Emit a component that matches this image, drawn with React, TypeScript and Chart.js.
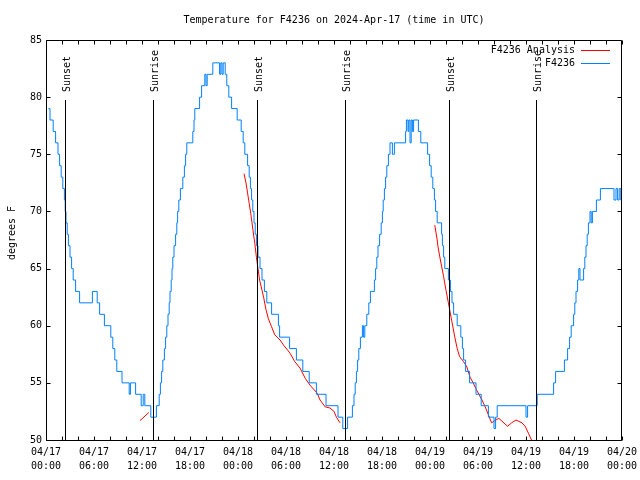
import { useEffect, useRef } from 'react';
import { Chart, registerables } from 'chart.js';

Chart.register(...registerables);

const FONT = '"DejaVu Sans Mono", "Liberation Mono", monospace';
const TITLE = 'Temperature for F4236 on 2024-Apr-17 (time in UTC)';
const Y_LABEL = 'degrees F';
const DAY_LABELS = ['04/17', '04/18', '04/19', '04/20'];
const TIME_LABELS = ['00:00', '06:00', '12:00', '18:00'];
const X_MIN = 0;
const X_MAX = 72;
const X_STEP = 2;
const Y_MIN = 50;
const Y_MAX = 85;
const Y_STEP = 5;

const SERIES_NAMES = ['F4236 Analysis', 'F4236'];
const SERIES_COLORS = ['#ff0000', '#0080ff'];

// hours since 04/17 00:00 UTC
const stationHours = [
  0.3, 0.5, 0.9, 1.2, 1.5, 1.7, 1.9, 2.1, 2.3, 2.4, 2.5, 2.65, 2.8, 3.0, 3.2, 3.4, 3.7, 4.2, 5.8, 6.4,
  6.7, 7.3, 8.1, 8.35, 8.6, 8.85, 9.5, 10.4, 10.55, 11.2, 11.9, 12.15, 12.35, 13.1, 13.8, 14.15, 14.3, 14.45, 14.6, 14.8,
  14.95, 15.1, 15.25, 15.4, 15.5, 15.65, 15.75, 15.85, 16.0, 16.2, 16.35, 16.45, 16.6, 16.8, 17.1, 17.3, 17.45, 17.6, 18.35, 18.5,
  18.6, 19.2, 19.45, 19.85, 20.0, 20.15, 20.85, 21.7, 21.85, 22.0, 22.15, 22.4, 22.6, 22.85, 23.2, 23.9, 24.4, 24.65, 24.85, 25.2,
  25.4, 25.55, 25.7, 25.85, 26.0, 26.15, 26.3, 26.5, 26.75, 27.0, 27.3, 27.6, 28.2, 29.05, 29.2, 30.45, 31.3, 32.1, 32.9, 33.8,
  35.0, 36.5, 37.1, 37.7, 38.3, 38.5, 38.65, 38.8, 38.95, 39.1, 39.3, 39.55, 39.7, 39.85, 40.1, 40.35, 40.55, 41.05, 41.2, 41.35,
  41.5, 41.7, 41.9, 42.05, 42.15, 42.3, 42.45, 42.6, 42.8, 43.0, 43.3, 43.55, 44.95, 45.05, 45.25, 45.35, 45.5, 45.65, 45.8, 45.95,
  46.55, 46.85, 47.7, 47.95, 48.15, 48.35, 48.55, 48.7, 48.9, 49.45, 49.55, 49.7, 49.85, 50.3, 50.55, 50.75, 50.95, 51.4, 51.85, 52.05,
  52.2, 52.45, 52.95, 53.75, 54.4, 55.3, 56.0, 56.2, 56.4, 60.0, 60.2, 61.4, 63.45, 63.7, 64.8, 65.2, 65.45, 65.65, 65.95, 66.1,
  66.25, 66.45, 66.6, 66.75, 67.2, 67.35, 67.5, 67.65, 67.8, 68.0, 68.15, 68.3, 68.8, 69.3, 71.0, 71.25, 71.45, 71.65, 71.85, 71.95,
];
const stationTemps = [
  79, 78, 77, 76, 75, 74, 73, 72, 71, 70, 69, 68, 67, 66, 65, 64, 63, 62, 63, 62,
  61, 60, 59, 58, 57, 56, 55, 54, 55, 54, 53, 54, 53, 52, 53, 54, 55, 56, 57, 58,
  59, 60, 61, 62, 63, 64, 65, 66, 67, 68, 69, 70, 71, 72, 73, 74, 75, 76, 77, 78,
  79, 80, 81, 82, 81, 82, 83, 82, 83, 82, 83, 82, 81, 80, 79, 78, 77, 76, 75, 74,
  73, 72, 71, 70, 69, 68, 67, 66, 65, 64, 63, 62, 61, 60, 59, 58, 57, 56, 55, 54,
  53, 52, 51, 52, 53, 54, 55, 56, 57, 58, 59, 60, 59, 60, 61, 62, 63, 64, 65, 66,
  67, 68, 69, 70, 71, 72, 73, 74, 75, 76, 75, 76, 77, 78, 77, 78, 76, 78, 77, 78,
  77, 76, 75, 74, 73, 72, 71, 70, 69, 68, 67, 66, 65, 64, 63, 62, 61, 60, 59, 58,
  57, 56, 55, 54, 53, 52, 51, 52, 53, 52, 53, 54, 55, 56, 57, 58, 59, 60, 61, 62,
  63, 64, 65, 64, 65, 66, 67, 68, 69, 70, 69, 70, 71, 72, 71, 72, 71, 72, 71, 71,
];

// null temperature = gap between analysis runs
const analysisHours = [
  11.75, 12.85, 18,
  24.75, 25.0, 25.2, 25.4, 25.6, 25.75, 25.9, 26.1, 26.3, 26.7, 27.0, 27.2, 27.5, 27.8, 28.2, 28.6,
  29.25, 29.7, 30.5, 31.1, 31.75, 32.4, 33.0, 33.9, 34.25, 34.9, 35.5, 36.0, 36.3, 36.75, 42,
  48.6, 48.9, 49.0, 49.3, 49.7, 50.0, 50.3, 50.7, 51.1, 51.4, 51.7, 52.2, 52.6, 53.0, 53.4, 53.8,
  54.5, 54.9, 55.3, 55.7, 56.1, 56.6, 57.7, 58.2, 58.75, 59.5, 59.9, 60.3, 60.75,
];
const analysisTemps = [
  51.7, 52.4, null,
  73.3, 72.5, 71.6, 70.7, 69.8, 69.0, 68.2, 67.2, 66.0, 64.0, 63.1, 62.5, 61.4, 60.6, 59.9, 59.2,
  58.75, 58.3, 57.6, 56.85, 56.3, 55.4, 54.8, 54.1, 53.5, 52.9, 52.8, 52.5, 52.0, 51.5, null,
  68.8, 67.5, 66.9, 65.75, 64.3, 63.1, 62.0, 60.5, 59.0, 58.0, 57.3, 56.85, 56.4, 55.5, 55.0, 54.4,
  53.5, 52.9, 52.2, 51.5, 51.7, 51.9, 51.2, 51.5, 51.75, 51.5, 51.2, 50.6, 49.9,
];

const sunEventHours = [2.4, 13.4, 26.4, 37.35, 50.4, 61.3];
const sunEventLabels = ['Sunset', 'Sunrise', 'Sunset', 'Sunrise', 'Sunset', 'Sunrise'];

const framePlugin = {
  id: 'gnuplotFrame',
  afterDatasetsDraw(chart: any) {
    const { ctx, chartArea } = chart;
    const { left, right, top, bottom } = chartArea;
    const xs = chart.scales.x;
    const ys = chart.scales.y;
    const h = bottom - top;
    ctx.save();
    ctx.strokeStyle = '#000';
    ctx.fillStyle = '#000';
    ctx.lineWidth = 1;

    // sunrise / sunset markers
    ctx.font = `10px ${FONT}`;
    sunEventHours.forEach((hr, i) => {
      const px = Math.round(xs.getPixelForValue(hr)) + 0.5;
      ctx.beginPath();
      ctx.moveTo(px, bottom);
      ctx.lineTo(px, bottom - 0.85 * h);
      ctx.stroke();
      ctx.save();
      ctx.translate(px + 1.5, bottom - 0.87 * h);
      ctx.rotate(-Math.PI / 2);
      ctx.textAlign = 'left';
      ctx.textBaseline = 'middle';
      ctx.fillText(sunEventLabels[i], 0, 0);
      ctx.restore();
    });

    // border
    const L = Math.round(left) + 0.5;
    const R = Math.round(right) - 0.5;
    const T = Math.round(top) + 0.5;
    const B = Math.round(bottom) + 0.5;
    ctx.beginPath();
    ctx.rect(L, T, R - L, B - T);
    ctx.stroke();

    // inward ticks
    const tl = 4;
    ctx.beginPath();
    xs.ticks.forEach((t: any) => {
      const px = Math.round(xs.getPixelForValue(t.value)) + 0.5;
      ctx.moveTo(px, B);
      ctx.lineTo(px, B - tl);
      ctx.moveTo(px, T);
      ctx.lineTo(px, T + tl);
    });
    ys.ticks.forEach((t: any) => {
      const py = Math.round(ys.getPixelForValue(t.value)) + 0.5;
      ctx.moveTo(L, py);
      ctx.lineTo(L + tl, py);
      ctx.moveTo(R, py);
      ctx.lineTo(R - tl, py);
    });
    ctx.stroke();

    // legend
    ctx.textAlign = 'right';
    ctx.textBaseline = 'middle';
    SERIES_NAMES.forEach((name, i) => {
      const y = Math.round(top + 10 + i * 13) + 0.5;
      ctx.fillStyle = '#000';
      ctx.fillText(name, right - 47, y);
      ctx.strokeStyle = SERIES_COLORS[i];
      ctx.beginPath();
      ctx.moveTo(right - 41, y);
      ctx.lineTo(right - 12, y);
      ctx.stroke();
    });

    // title
    ctx.fillStyle = '#000';
    ctx.textAlign = 'center';
    ctx.fillText(TITLE, (left + right) / 2, 20);

    // y axis label
    ctx.save();
    ctx.translate(12.5, 233);
    ctx.rotate(-Math.PI / 2);
    ctx.textAlign = 'center';
    ctx.fillText(Y_LABEL, 0, 0);
    ctx.restore();

    ctx.restore();
  },
};

export default function App() {
  const ref = useRef<HTMLCanvasElement | null>(null);
  useEffect(() => {
    if (!ref.current) return;
    const chart = new Chart(ref.current, {
      type: 'line',
      data: {
        datasets: [
          {
            label: SERIES_NAMES[1],
            data: stationHours.map((h, i) => ({ x: h, y: stationTemps[i] })),
            borderColor: SERIES_COLORS[1],
            borderWidth: 1,
            pointRadius: 0,
            stepped: 'before',
            fill: false,
          },
          {
            label: SERIES_NAMES[0],
            data: analysisHours.map((h, i) => ({ x: h, y: analysisTemps[i] })),
            borderColor: SERIES_COLORS[0],
            borderWidth: 1,
            pointRadius: 0,
            spanGaps: false,
            fill: false,
          },
        ],
      },
      options: {
        responsive: false,
        animation: false,
        layout: { padding: { left: 0, right: 18, top: 40, bottom: 0 } },
        plugins: {
          legend: { display: false },
          title: { display: false },
          tooltip: { enabled: false },
        },
        scales: {
          x: {
            type: 'linear',
            min: X_MIN,
            max: X_MAX,
            grid: { display: false, drawTicks: false },
            border: { display: false },
            afterFit: (s: any) => {
              s.height = 40;
              s.paddingLeft = 0;
              s.paddingRight = 0;
            },
            ticks: {
              stepSize: X_STEP,
              autoSkip: false,
              maxRotation: 0,
              minRotation: 0,
              padding: 5,
              color: '#000',
              font: { family: FONT, size: 10, lineHeight: 1.45 },
              callback: (v: any) => {
                const n = Number(v);
                if (n % 6 !== 0) return '';
                return [DAY_LABELS[Math.floor(n / 24)], TIME_LABELS[(n % 24) / 6]];
              },
            },
          },
          y: {
            type: 'linear',
            min: Y_MIN,
            max: Y_MAX,
            grid: { display: false, drawTicks: false },
            border: { display: false },
            afterFit: (s: any) => {
              s.width = 46;
              s.paddingTop = 0;
              s.paddingBottom = 0;
            },
            ticks: {
              stepSize: Y_STEP,
              padding: 4,
              color: '#000',
              font: { family: FONT, size: 10 },
            },
          },
        },
      },
      plugins: [framePlugin],
    });
    return () => chart.destroy();
  }, []);
  return (
    <div style={{ position: 'absolute', left: 0, top: 0, width: 640, height: 480, background: '#fff' }}>
      <canvas ref={ref} width={640} height={480} />
    </div>
  );
}
